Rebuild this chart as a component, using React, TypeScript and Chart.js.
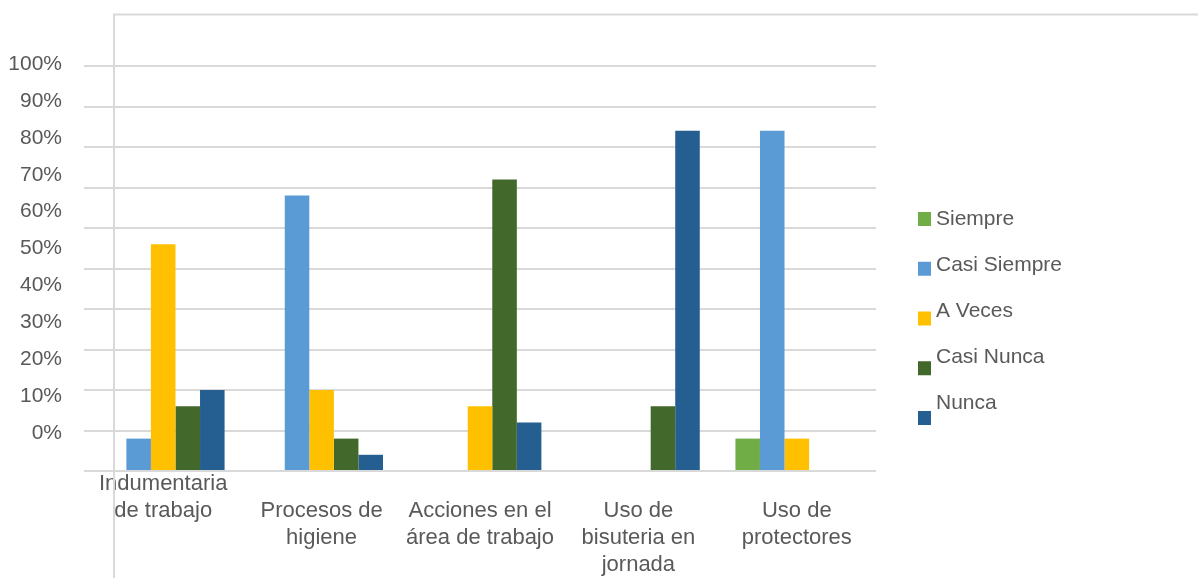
import React, { useEffect, useRef } from "react";
import { Chart, registerables } from "chart.js";

Chart.register(...registerables);

// Survey categories (x axis). A leading empty line keeps the first label one row higher than the rest.
const CATEGORY_LABELS: string[][] = [
  ["Indumentaria", "de trabajo"],
  ["", "Procesos de", "higiene"],
  ["", "Acciones en el", "área de trabajo"],
  ["", "Uso de", "bisuteria en", "jornada"],
  ["", "Uso de", "protectores"],
];

// Percentage of answers per category
const SIEMPRE = [0, 0, 0, 0, 8];
const CASI_SIEMPRE = [8, 68, 0, 0, 84];
const A_VECES = [56, 20, 16, 0, 8];
const CASI_NUNCA = [16, 8, 72, 16, 0];
const NUNCA = [20, 4, 12, 84, 0];

const SERIES_NAMES = ["Siempre", "Casi Siempre", "A Veces", "Casi Nunca", "Nunca"];
const SERIES_COLORS = ["#70AD47", "#5B9BD5", "#FFC000", "#43682B", "#255E91"];

// Percent labels shown on the left
const PERCENT_TICKS = [0, 10, 20, 30, 40, 50, 60, 70, 80, 90, 100];

const TEXT_COLOR = "#595959";
const GRID_COLOR = "#D9D9D9";
const FONT_FAMILY = '"Liberation Sans", Arial, Helvetica, sans-serif';

// Thin frame drawn at the top and left of the plot
const framePlugin = {
  id: "plotFrame",
  beforeDatasetsDraw(chart: any) {
    const { ctx, chartArea, width, height } = chart;
    const x = chartArea.left + 30;
    const y = 14.5;
    ctx.save();
    ctx.strokeStyle = GRID_COLOR;
    ctx.lineWidth = 2;
    ctx.beginPath();
    ctx.moveTo(x, height);
    ctx.lineTo(x, y);
    ctx.lineTo(width, y);
    ctx.stroke();
    ctx.restore();
  },
};

// Legend on the right: colour squares and series names
const sideLegendPlugin = {
  id: "sideLegend",
  afterDraw(chart: any) {
    const { ctx, chartArea } = chart;
    const boxX = chartArea.right + 42;
    const textX = boxX + 18;
    ctx.save();
    ctx.font = `21px ${FONT_FAMILY}`;
    ctx.textBaseline = "middle";
    ctx.textAlign = "left";
    chart.data.datasets.forEach((ds: any, i: number) => {
      ctx.fillStyle = ds.backgroundColor;
      ctx.fillRect(boxX, 212 + i * 49.75, 13, 14);
      ctx.fillStyle = TEXT_COLOR;
      ctx.fillText(ds.label, textX, 219 + i * 46);
    });
    ctx.restore();
  },
};

export default function App() {
  const canvasRef = useRef<HTMLCanvasElement | null>(null);

  useEffect(() => {
    if (!canvasRef.current) return;
    const seriesValues = [SIEMPRE, CASI_SIEMPRE, A_VECES, CASI_NUNCA, NUNCA];

    const chart = new Chart(canvasRef.current, {
      type: "bar",
      data: {
        labels: CATEGORY_LABELS,
        datasets: seriesValues.map((values, i) => ({
          label: SERIES_NAMES[i],
          data: values,
          backgroundColor: SERIES_COLORS[i],
          borderWidth: 0,
          categoryPercentage: 0.775,
          barPercentage: 1.0,
          yAxisID: "y",
        })),
      },
      options: {
        responsive: false,
        animation: false,
        devicePixelRatio: 1,
        layout: { padding: { top: 66, right: 322, left: 0, bottom: 0 } },
        plugins: {
          legend: { display: false },
          tooltip: { enabled: false },
        },
        scales: {
          x: {
            grid: { display: false, drawTicks: false },
            border: { display: false },
            ticks: {
              color: TEXT_COLOR,
              font: { family: FONT_FAMILY, size: 22, lineHeight: "27px" },
              padding: -1,
              maxRotation: 0,
              minRotation: 0,
              autoSkip: false,
            },
            afterFit(scale: any) {
              scale.height = 107;
            },
          },
          y: {
            position: "left",
            min: 0,
            max: 100,
            ticks: { display: false, stepSize: 10 },
            grid: { color: GRID_COLOR, lineWidth: 2, drawTicks: false },
            border: { display: false },
            afterFit(scale: any) {
              scale.width = 0;
            },
          },
          yLabels: {
            position: "left",
            min: -10.37,
            max: 99.54,
            grid: { display: false, drawTicks: false },
            border: { display: false },
            ticks: {
              color: TEXT_COLOR,
              font: { family: FONT_FAMILY, size: 21 },
              padding: 22,
              autoSkip: false,
              callback: (v: any) => `${v}%`,
            },
            afterBuildTicks(scale: any) {
              scale.ticks = PERCENT_TICKS.map((v) => ({ value: v }));
            },
            afterFit(scale: any) {
              scale.width = 84;
            },
          },
        },
      },
      plugins: [framePlugin, sideLegendPlugin],
    });

    return () => chart.destroy();
  }, []);

  return (
    <div style={{ position: "absolute", left: 0, top: 0, width: 1198, height: 578, background: "#ffffff" }}>
      <canvas ref={canvasRef} width={1198} height={578} />
    </div>
  );
}
